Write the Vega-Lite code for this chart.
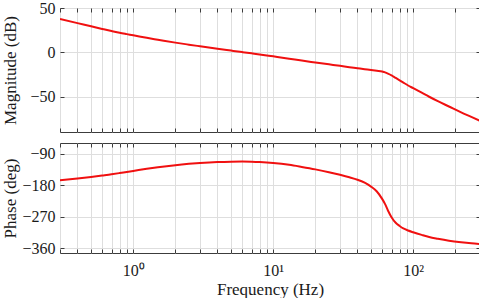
{
  "$schema": "https://vega.github.io/schema/vega-lite/v6.json",
  "autosize": {"type": "pad"},
  "padding": {"left": 0, "top": -1, "right": 0, "bottom": 0},
  "background": "white",
  "bounds": "flush",
  "spacing": 11,
  "data": {"values": [
    {"f": 0.3, "mag": 37.5, "phase": -166},
    {"f": 0.4, "mag": 32.9, "phase": -161},
    {"f": 0.5, "mag": 29.3, "phase": -156.5},
    {"f": 0.6, "mag": 26.4, "phase": -152.5},
    {"f": 0.7, "mag": 24.0, "phase": -149},
    {"f": 0.8, "mag": 22.0, "phase": -145.5},
    {"f": 0.9, "mag": 20.5, "phase": -142.3},
    {"f": 1.0, "mag": 19.2, "phase": -139.5},
    {"f": 1.25, "mag": 16.3, "phase": -133.5},
    {"f": 1.5, "mag": 14.2, "phase": -129},
    {"f": 2, "mag": 10.9, "phase": -123},
    {"f": 2.5, "mag": 8.6, "phase": -119.3},
    {"f": 3, "mag": 6.8, "phase": -116.8},
    {"f": 4, "mag": 4.0, "phase": -114},
    {"f": 5, "mag": 1.9, "phase": -113},
    {"f": 6, "mag": 0.2, "phase": -112.8},
    {"f": 7, "mag": -1.2, "phase": -113.3},
    {"f": 8, "mag": -2.4, "phase": -114.2},
    {"f": 10, "mag": -4.6, "phase": -116.8},
    {"f": 13, "mag": -7.2, "phase": -122},
    {"f": 16, "mag": -9.4, "phase": -128},
    {"f": 20, "mag": -11.5, "phase": -135},
    {"f": 25, "mag": -13.6, "phase": -143},
    {"f": 30, "mag": -15.3, "phase": -150.5},
    {"f": 35, "mag": -16.8, "phase": -157.5},
    {"f": 40, "mag": -18.0, "phase": -164.5},
    {"f": 45, "mag": -19.1, "phase": -173},
    {"f": 50, "mag": -20.0, "phase": -184},
    {"f": 55, "mag": -20.9, "phase": -198},
    {"f": 60, "mag": -21.8, "phase": -219},
    {"f": 63, "mag": -22.7, "phase": -234},
    {"f": 66, "mag": -24.0, "phase": -252},
    {"f": 70, "mag": -26.0, "phase": -271},
    {"f": 75, "mag": -29.0, "phase": -287},
    {"f": 80, "mag": -31.6, "phase": -296},
    {"f": 85, "mag": -34.2, "phase": -303},
    {"f": 92, "mag": -37.5, "phase": -309},
    {"f": 100, "mag": -40.5, "phase": -314},
    {"f": 115, "mag": -45.6, "phase": -321.5},
    {"f": 130, "mag": -50.2, "phase": -327.5},
    {"f": 150, "mag": -55.2, "phase": -332.5},
    {"f": 180, "mag": -61.2, "phase": -338},
    {"f": 220, "mag": -67.8, "phase": -342.5},
    {"f": 260, "mag": -73.0, "phase": -345.5},
    {"f": 300, "mag": -77.5, "phase": -347.5}
  ]},
  "config": {
    "font": "Liberation Serif",
    "view": {"stroke": "#3c3c3c", "strokeWidth": 1},
    "axis": {
      "labelFont": "Liberation Serif",
      "labelFontSize": 16,
      "labelColor": "#1a1a1a",
      "titleFont": "Liberation Serif",
      "titleFontSize": 17,
      "titleFontWeight": "normal",
      "titleColor": "#1a1a1a",
      "gridColor": "#dedede",
      "gridOpacity": 1,
      "gridWidth": 1,
      "tickColor": "#3c3c3c",
      "tickSize": -4,
      "domain": false
    }
  },
  "vconcat": [
    {
      "width": 420,
      "height": 124,
      "layer": [
        {
          "mark": {"type": "line", "color": "#f01010", "strokeWidth": 2, "clip": true, "interpolate": "monotone"},
          "encoding": {
            "x": {"field": "f", "type": "quantitative",
                  "scale": {"type": "log", "domain": [0.3, 300], "nice": false},
                  "axis": {"orient": "bottom", "values": [0.3,0.4,0.5,0.6,0.7,0.8,0.9,1,2,3,4,5,6,7,8,9,10,20,30,40,50,60,70,80,90,100,200,300], "labels": false, "title": null, "grid": true}},
            "y": {"field": "mag", "type": "quantitative",
                  "scale": {"domain": [-90, 50], "nice": false, "zero": false},
                  "axis": {"orient": "left", "values": [-50, 0, 50], "title": "Magnitude (dB)", "grid": true, "labelPadding": 9, "titleX": -41, "labelFont": "Liberation Serif", "labelFontSize": 16}}
          }
        },
        {
          "mark": {"type": "line", "opacity": 0},
          "encoding": {
            "x": {"field": "f", "type": "quantitative",
                  "axis": {"orient": "top", "values": [0.3,0.4,0.5,0.6,0.7,0.8,0.9,1,2,3,4,5,6,7,8,9,10,20,30,40,50,60,70,80,90,100,200,300], "labels": false, "title": null, "grid": false}},
            "y": {"field": "mag", "type": "quantitative",
                  "axis": {"orient": "right", "values": [-50, 0, 50], "labels": false, "title": null, "grid": false}}
          }
        }
      ],
      "resolve": {"axis": {"x": "independent", "y": "independent"}}
    },
    {
      "width": 420,
      "height": 110,
      "layer": [
        {
          "mark": {"type": "line", "color": "#f01010", "strokeWidth": 2, "clip": true, "interpolate": "monotone"},
          "encoding": {
            "x": {"field": "f", "type": "quantitative",
                  "scale": {"type": "log", "domain": [0.3, 300], "nice": false},
                  "axis": {"orient": "bottom", "values": [0.3,0.4,0.5,0.6,0.7,0.8,0.9,1,2,3,4,5,6,7,8,9,10,20,30,40,50,60,70,80,90,100,200,300],
                           "labelExpr": "datum.value == 1 ? '10⁰' : datum.value == 10 ? '10¹' : datum.value == 100 ? '10²' : ''",
                           "labelFont": "Liberation Serif", "labelFontSize": 16,
                           "labelOverlap": false, "labelFlush": false, "labelPadding": 13, "title": "Frequency (Hz)", "titlePadding": 3, "grid": true}},
            "y": {"field": "phase", "type": "quantitative",
                  "scale": {"domain": [-373, -60], "nice": false, "zero": false},
                  "axis": {"orient": "left", "values": [-360, -270, -180, -90], "title": "Phase (deg)", "grid": true, "labelPadding": 9, "titleX": -41, "labelFont": "Liberation Serif", "labelFontSize": 16}}
          }
        },
        {
          "mark": {"type": "line", "opacity": 0},
          "encoding": {
            "x": {"field": "f", "type": "quantitative",
                  "axis": {"orient": "top", "values": [0.3,0.4,0.5,0.6,0.7,0.8,0.9,1,2,3,4,5,6,7,8,9,10,20,30,40,50,60,70,80,90,100,200,300], "labels": false, "title": null, "grid": false}},
            "y": {"field": "phase", "type": "quantitative",
                  "axis": {"orient": "right", "values": [-360, -270, -180, -90], "labels": false, "title": null, "grid": false}}
          }
        }
      ],
      "resolve": {"axis": {"x": "independent", "y": "independent"}}
    }
  ]
}
